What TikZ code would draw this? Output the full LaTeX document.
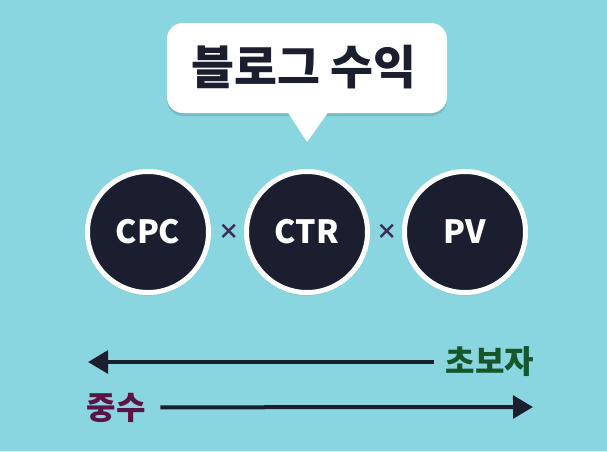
\documentclass[tikz,border=0pt]{standalone}
\usepackage{fontspec}
\setmainfont{Noto Sans}
\newfontfamily\kr{Noto Sans CJK KR}
\usetikzlibrary{arrows.meta,shadows}
\definecolor{bgc}{HTML}{8AD6E0}
\definecolor{navy}{HTML}{1B1E2E}
\definecolor{grn}{HTML}{15562B}
\definecolor{prp}{HTML}{5A1546}
\definecolor{timesc}{HTML}{3B2D52}
\tikzset{
  circ/.style={circle, fill=navy, draw=white, line width=3.75pt, minimum size=90.75pt,
    text=white, font=\kr\bfseries\fontsize{24}{26}\selectfont,
    drop shadow={opacity=0.18, shadow xshift=0pt, shadow yshift=-2.5pt}},
  timesmark/.style={text=timesc, font=\kr\bfseries\fontsize{16}{18}\selectfont},
  lbl/.style={inner sep=0pt, font=\kr\bfseries\fontsize{24}{26}\selectfont},
  arr/.style={draw=navy, line width=3pt, -{Triangle[length=15pt,width=17pt]}}
}
\begin{document}
\begin{tikzpicture}[x=0.75pt,y=-0.75pt]
\fill[bgc] (0,0) rectangle (607,451);
\useasboundingbox (0,0) rectangle (607,451);
% speech bubble
\fill[black, opacity=0.12, rounded corners=12pt] (167,25) rectangle (447,116);
\fill[white, rounded corners=12pt] (167,23) rectangle (447,113);
\fill[white] (287,111) -- (307,142) -- (329,111) -- cycle;
\node[font=\kr\bfseries\fontsize{35}{40}\selectfont, text=navy] (title) at (304,67) {블로그 수익};
% circles
\node[circ] (cpc) at (148,232) {CPC};
\node[circ] (ctr) at (307,232) {CTR};
\node[circ] (pv) at (465,232) {PV};
\node[timesmark] (x1) at (229,232) {×};
\node[timesmark] (x2) at (387,232) {×};
% arrows
\node[lbl, text=grn] (nov) at (490,362) {초보자};
\node[lbl, text=prp] (mid) at (116,408) {중수};
\coordinate (e1) at (88,362);
\coordinate (e2) at (533,407);
\draw[arr] ([xshift=-9pt]nov.west) -- (e1);
\draw[arr] ([xshift=11pt,yshift=0.5pt]mid.east) -- (e2);
\end{tikzpicture}
\end{document}
